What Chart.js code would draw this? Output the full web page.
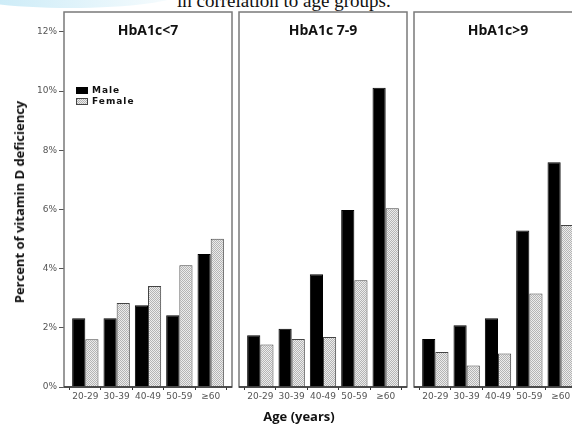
<!DOCTYPE html>
<html>
<head>
<meta charset="utf-8">
<script src="https://cdn.jsdelivr.net/npm/chart.js@4.4.1/dist/chart.umd.min.js"></script>
<style>
  body { margin: 0; width: 572px; height: 426px; overflow: hidden; background: #fff; position: relative; }
  canvas { position: absolute; top: 0; }
  .swoosh { position: absolute; left: -40px; top: -22px; width: 220px; height: 30px; border-radius: 50%;
            background: linear-gradient(90deg, rgba(190,230,245,0.9), rgba(220,242,250,0.2)); }
  .header { position: absolute; left: 177px; top: -10px; font: 19px "Liberation Serif", serif; color: #111; white-space: nowrap; }
  .ytitle { position: absolute; left: 19px; top: 202px; transform: translate(-50%, -50%) rotate(-90deg);
            font: bold 13px "Open Sans", sans-serif; color: #111; white-space: nowrap; }
  .xtitle { position: absolute; left: 299px; top: 416px; transform: translate(-50%, -50%);
            font: bold 13px "Open Sans", sans-serif; color: #111; white-space: nowrap; }
</style>
</head>
<body>
<div class="swoosh"></div>
<div class="header">in correlation to age groups.</div>
<canvas id="p1" width="234" height="426" style="left:0px"></canvas>
<canvas id="p2" width="172" height="426" style="left:237px"></canvas>
<canvas id="p3" width="172" height="426" style="left:412px"></canvas>
<div class="ytitle">Percent of vitamin D deficiency</div>
<div class="xtitle">Age (years)</div>
<script>
const ageGroups = ['20-29', '30-39', '40-49', '50-59', '≥60'];
const panelTitles = ['HbA1c<7', 'HbA1c 7-9', 'HbA1c>9'];
const seriesNames = ['Male', 'Female'];
const yTicks = [0, 2, 4, 6, 8, 10, 12];

// percent of vitamin D deficiency
const maleLow = [2.32, 2.32, 2.76, 2.42, 4.49];
const femaleLow = [1.61, 2.84, 3.41, 4.11, 5.01];
const maleMid = [1.75, 1.97, 3.81, 5.98, 10.11];
const femaleMid = [1.44, 1.62, 1.69, 3.61, 6.04];
const maleHigh = [1.62, 2.09, 2.32, 5.29, 7.59];
const femaleHigh = [1.18, 0.73, 1.13, 3.16, 5.47];

// dotted fill for female bars
function dotPattern() {
    const c = document.createElement('canvas');
    c.width = 2; c.height = 2;
    const g = c.getContext('2d');
    g.fillStyle = '#ececec';
    g.fillRect(0, 0, 2, 2);
    g.fillStyle = '#b4b4b4';
    g.fillRect(0, 0, 1, 1);
    g.fillRect(1, 1, 1, 1);
    return g.createPattern(c, 'repeat');
}
const femaleFill = dotPattern();

const panelBox = {
    id: 'panelBox',
    afterDraw(chart, args, opts) {
        const { ctx, chartArea: a } = chart;
        ctx.save();
        ctx.strokeStyle = '#7a7a7a';
        ctx.lineWidth = 1.5;
        ctx.strokeRect(a.left, a.top, a.right - a.left, a.bottom - a.top);
        ctx.strokeStyle = '#333';
        ctx.beginPath();
        ctx.moveTo(a.left, a.bottom);
        ctx.lineTo(a.right, a.bottom);
        ctx.stroke();

        ctx.fillStyle = '#111';
        ctx.font = 'bold 14px "Open Sans", sans-serif';
        ctx.textAlign = 'center';
        ctx.textBaseline = 'middle';
        ctx.fillText(opts.text, (a.left + a.right) / 2, a.top + 19);

        if (opts.legend) {
            ctx.font = 'bold 9px "DejaVu Sans", sans-serif';
            ctx.textAlign = 'left';
            ctx.letterSpacing = '1px';
            chart.data.datasets.forEach((ds, i) => {
                const y = 87 + i * 11;
                ctx.fillStyle = ds.backgroundColor;
                ctx.fillRect(76, y, 12, 7);
                ctx.strokeStyle = ds.borderColor;
                ctx.lineWidth = 1;
                ctx.strokeRect(76.5, y + 0.5, 11, 6);
                ctx.fillStyle = '#111';
                ctx.fillText(ds.label, 92, y + 4);
            });
        }
        ctx.restore();
    }
};

function makePanel(id, title, males, females, showY, pad) {
    new Chart(document.getElementById(id), {
        type: 'bar',
        data: {
            datasets: [
                { label: seriesNames[0], data: males.map((v, i) => ({ x: i, y: v })),
                  backgroundColor: '#000', borderColor: '#000', borderWidth: 1 },
                { label: seriesNames[1], data: females.map((v, i) => ({ x: i, y: v })),
                  backgroundColor: femaleFill, borderColor: '#444', borderWidth: 1 }
            ]
        },
        options: {
            responsive: false,
            animation: false,
            layout: { padding: { top: 12, left: pad.left, right: pad.right, bottom: 0 } },
            categoryPercentage: 0.84,
            barPercentage: 1.0,
            plugins: {
                legend: { display: false },
                tooltip: { enabled: false },
                panelBox: { text: title, legend: showY }
            },
            scales: {
                x: {
                    type: 'linear',
                    offset: false,
                    min: -0.68,
                    max: 4.68,
                    afterFit: s => { s.height = 39; },
                    afterBuildTicks: s => { s.ticks = ageGroups.map((_, i) => ({ value: i })); },
                    border: { display: false },
                    grid: { drawOnChartArea: false, drawTicks: true, tickLength: 3, color: '#333' },
                    ticks: {
                        callback: v => ageGroups[v],
                        font: { family: 'DejaVu Sans', size: 9 },
                        color: '#555',
                        padding: 1,
                        maxRotation: 0,
                        autoSkip: false
                    }
                },
                y: {
                    display: showY,
                    min: 0,
                    max: 12.67,
                    afterFit: s => { s.width = showY ? 64 : 0; },
                    afterBuildTicks: s => { s.ticks = yTicks.map(v => ({ value: v })); },
                    border: { display: false },
                    grid: { drawOnChartArea: false, drawTicks: true, tickLength: 5, color: '#555' },
                    ticks: {
                        callback: v => v + '%',
                        font: { family: 'DejaVu Sans', size: 9 },
                        color: '#555',
                        padding: 2
                    }
                }
            }
        },
        plugins: [panelBox]
    });
}

makePanel('p1', panelTitles[0], maleLow, femaleLow, true, { left: 0, right: 2 });
makePanel('p2', panelTitles[1], maleMid, femaleMid, false, { left: 2, right: 2 });
makePanel('p3', panelTitles[2], maleHigh, femaleHigh, false, { left: 2, right: 2 });
</script>
</body>
</html>
